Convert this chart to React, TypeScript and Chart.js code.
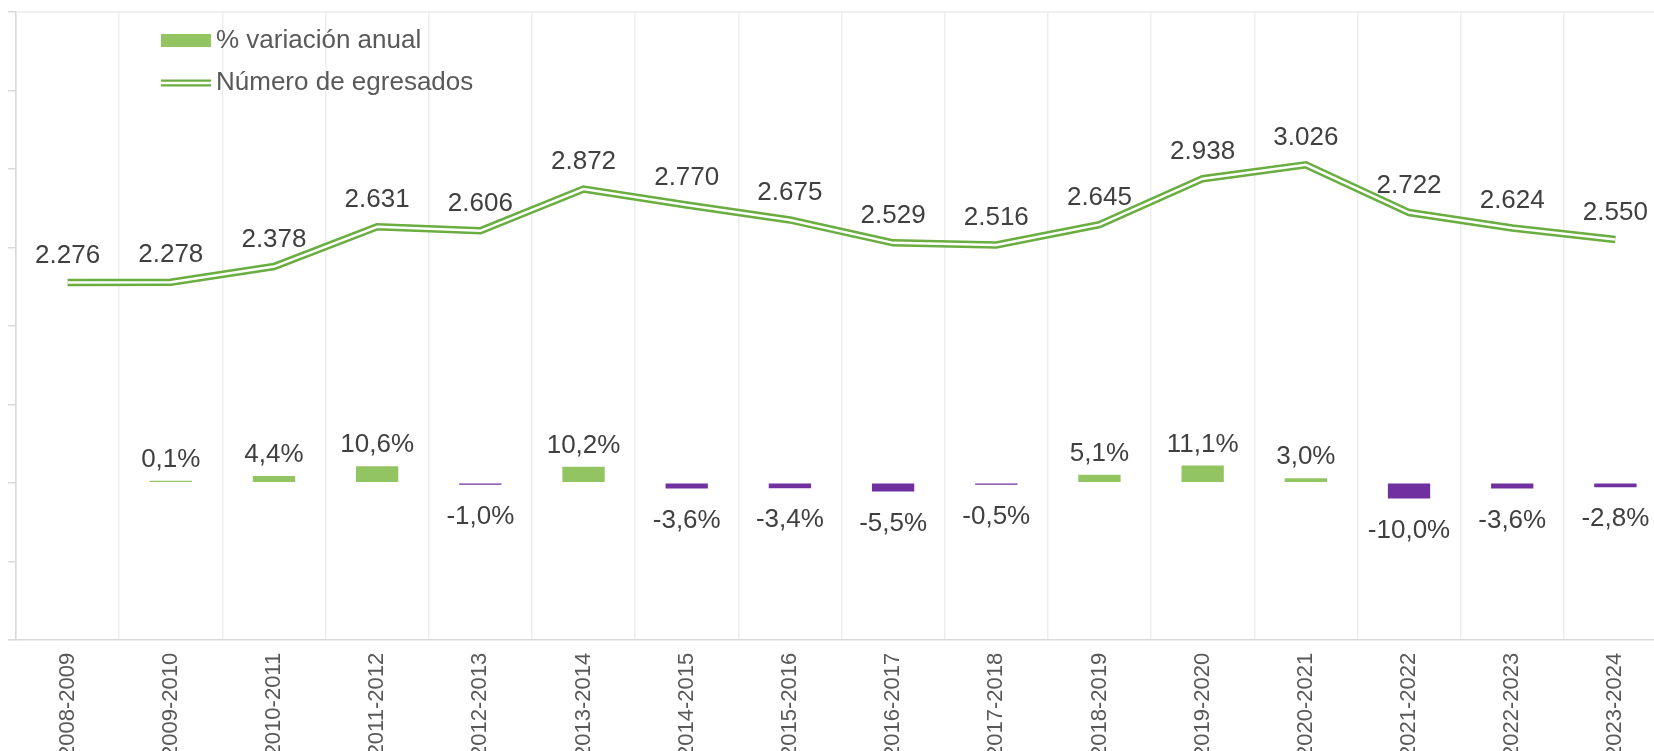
import React, { useEffect, useRef } from 'react';
import { Chart, registerables } from 'chart.js';

Chart.register(...registerables);

const categories = [
  '2008-2009', '2009-2010', '2010-2011', '2011-2012', '2012-2013', '2013-2014',
  '2014-2015', '2015-2016', '2016-2017', '2017-2018', '2018-2019', '2019-2020',
  '2020-2021', '2021-2022', '2022-2023', '2023-2024',
];
const graduates = [2276, 2278, 2378, 2631, 2606, 2872, 2770, 2675, 2529, 2516, 2645, 2938, 3026, 2722, 2624, 2550];
const annualChange: (number | null)[] = [null, 0.1, 4.4, 10.6, -1.0, 10.2, -3.6, -3.4, -5.5, -0.5, 5.1, 11.1, 3.0, -10.0, -3.6, -2.8];
const barAxisMin = -100;
const barAxisMax = 300;
const barAxisStep = 50;
const lineAxisMin = 0;
const lineAxisMax = 4000;
const legendLabels = ['% variación anual', 'Número de egresados'];

const FONT = 'Arial, "Liberation Sans", sans-serif';
const BAR_GREEN = '#93C462';
const BAR_PURPLE = '#7030A0';
const LINE_GREEN = '#6AAD40';

const fmtPct = (v: number) => v.toFixed(1).replace('.', ',') + '%';
const fmtNum = (v: number) => String(v).replace(/\B(?=(\d{3})+(?!\d))/g, '.');

const decorPlugin = {
  id: 'decor',
  beforeDatasetsDraw(chart: any) {
    const { ctx, chartArea } = chart;
    ctx.save();
    ctx.strokeStyle = '#EBEBEB';
    ctx.lineWidth = 1.5;
    ctx.beginPath();
    ctx.moveTo(chartArea.left, chartArea.top);
    ctx.lineTo(chartArea.right, chartArea.top);
    ctx.stroke();
    ctx.restore();
  },
  afterDatasetsDraw(chart: any) {
    const { ctx, chartArea } = chart;
    ctx.save();
    ctx.font = `26px ${FONT}`;
    ctx.fillStyle = '#404040';
    ctx.textAlign = 'center';
    ctx.textBaseline = 'middle';
    const barMeta = chart.getDatasetMeta(0);
    barMeta.data.forEach((el: any, i: number) => {
      const v = annualChange[i];
      if (v == null) return;
      const { x, y, base } = el.getProps(['x', 'y', 'base'], true);
      const top = Math.min(y, base);
      const bottom = Math.max(y, base);
      const ty = v >= 0 ? top - 21 : bottom + 32;
      ctx.fillText(fmtPct(v), x, ty);
    });
    const lineMeta = chart.getDatasetMeta(1);
    lineMeta.data.forEach((pt: any, i: number) => {
      ctx.fillText(fmtNum(graduates[i]), pt.x, pt.y - 27);
    });

    // legend
    const lx = chartArea.left + 145;
    ctx.fillStyle = BAR_GREEN;
    ctx.fillRect(lx, 34, 50, 13);
    ctx.strokeStyle = LINE_GREEN;
    ctx.lineWidth = 7;
    ctx.beginPath();
    ctx.moveTo(lx, 83);
    ctx.lineTo(lx + 50, 83);
    ctx.stroke();
    ctx.strokeStyle = '#FFFFFF';
    ctx.lineWidth = 2.5;
    ctx.beginPath();
    ctx.moveTo(lx, 83);
    ctx.lineTo(lx + 50, 83);
    ctx.stroke();
    ctx.font = `26px ${FONT}`;
    ctx.fillStyle = '#595959';
    ctx.textAlign = 'left';
    ctx.textBaseline = 'alphabetic';
    ctx.fillText(legendLabels[0], lx + 55, 47.5);
    ctx.fillText(legendLabels[1], lx + 55, 89.5);
    ctx.restore();
  },
};

export default function App() {
  const canvasRef = useRef<HTMLCanvasElement | null>(null);

  useEffect(() => {
    if (!canvasRef.current) return;
    const chart = new Chart(canvasRef.current, {
      type: 'bar',
      data: {
        labels: categories,
        datasets: [
          {
            type: 'bar',
            label: legendLabels[0],
            data: annualChange,
            yAxisID: 'y',
            backgroundColor: annualChange.map((v) => (v != null && v < 0 ? BAR_PURPLE : BAR_GREEN)),
            barPercentage: 0.41,
            categoryPercentage: 1,
            minBarLength: 2,
            order: 2,
          } as any,
          {
            type: 'line',
            label: legendLabels[1],
            data: graduates,
            yAxisID: 'y1',
            borderColor: LINE_GREEN,
            borderWidth: 7.5,
            borderJoinStyle: 'miter',
            pointRadius: 0,
            tension: 0,
            order: 1,
          } as any,
          {
            type: 'line',
            label: legendLabels[1] + ' (inner)',
            data: graduates,
            yAxisID: 'y1',
            borderColor: '#FFFFFF',
            borderWidth: 2.5,
            borderJoinStyle: 'miter',
            pointRadius: 0,
            tension: 0,
            order: 0,
          } as any,
        ],
      },
      options: {
        responsive: false,
        animation: false,
        layout: { padding: { left: 8, top: 12, right: 13, bottom: 0 } },
        plugins: {
          legend: { display: false },
          tooltip: { enabled: false },
        },
        scales: {
          x: {
            offset: true,
            grid: { offset: true, drawTicks: false, color: '#EDEDED', lineWidth: 1.5 },
            border: { color: '#D9D9D9', width: 1.5 },
            ticks: {
              minRotation: 90,
              maxRotation: 90,
              padding: 13,
              color: '#595959',
              font: { size: 22, family: FONT },
              autoSkip: false,
            },
          },
          y: {
            position: 'left',
            min: barAxisMin,
            max: barAxisMax,
            ticks: { display: false, stepSize: barAxisStep },
            grid: { drawOnChartArea: false, drawTicks: true, tickLength: 8, color: '#D9D9D9', lineWidth: 1.5 },
            border: { color: '#D9D9D9', width: 1.5 },
          },
          y1: {
            display: false,
            position: 'right',
            min: lineAxisMin,
            max: lineAxisMax,
          },
        },
      },
      plugins: [decorPlugin],
    });
    return () => chart.destroy();
  }, []);

  return (
    <div style={{ position: 'fixed', top: 0, left: 0, width: '100vw', height: '100vh', overflow: 'hidden', background: '#fff' }}>
      <canvas ref={canvasRef} width={1680} height={771} style={{ display: 'block' }} />
    </div>
  );
}
